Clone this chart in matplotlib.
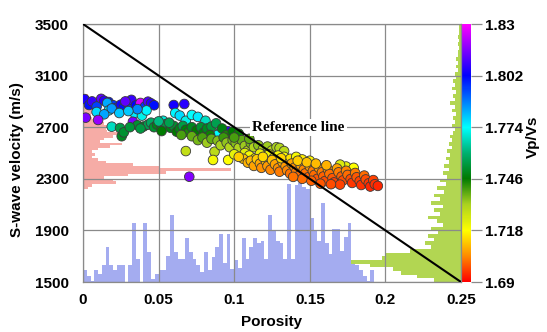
import numpy as np
import matplotlib
matplotlib.use('Agg')
import matplotlib.pyplot as plt
from matplotlib.colors import LinearSegmentedColormap, Normalize

plt.rcParams['font.family'] = ['Liberation Sans', 'DejaVu Sans']
plt.rcParams['font.weight'] = 'bold'

# ---- histograms ----
# porosity histogram (bottom, blue), bins of 0.0025 starting at 0
por_bin_w = 0.0025
por_counts = [9, 5, 1, 9, 6, 13, 27, 13, 9, 13, 13, 0, 13, 46, 18, 0, 46, 23, 2, 6,
              9, 9, 20, 52, 23, 18, 18, 34, 23, 18, 13, 8, 23, 9, 19, 27, 37, 15, 37, 10,
              17, 11, 34, 18, 27, 34, 30, 32, 18, 52, 40, 32, 30, 18, 76, 18, 75, 77, 74, 72,
              50, 40, 32, 61, 30, 22, 41, 41, 24, 35, 46, 14, 13, 9, 5, 1, 9, 0]

# S-wave velocity histogram (left, pink), bins of 20 m/s starting at 2220
vs_bin_start = 2220
vs_bin_w = 20
vs_counts = [3, 6, 22, 20, 14, 30, 55, 98, 50, 33, 15, 10, 6, 8, 6, 10, 18, 26, 11,
             14, 20, 26, 16, 15, 16, 14, 10, 6, 5, 8, 6, 7, 5, 9, 6, 4, 3]

# Vp/Vs histogram (right, green), bins of 0.002 starting at 1.69
vpvs_bin_start = 1.69
vpvs_bin_w = 0.002
vpvs_counts = [18, 29, 40, 45, 60, 86, 52, 50, 34, 20, 24, 18, 22, 15, 20, 12, 16, 22, 14, 18,
               12, 20, 14, 18, 11, 16, 10, 14, 9, 12, 8, 11, 8, 10, 7, 9, 6, 8, 6, 7,
               5, 4, 6, 4, 5, 3, 6, 4, 7, 4, 5, 3, 6, 4, 5, 3, 4, 2, 3, 2,
               3, 2, 2, 1, 2, 1, 2, 1, 1, 1]

# ---- scatter points (porosity, Vs, Vp/Vs) ----
blue_por = [0.001, 0.004, 0.006, 0.012, 0.014, 0.017, 0.020, 0.022, 0.025, 0.027, 0.030,
            0.032, 0.035, 0.038, 0.041, 0.043, 0.045, 0.047, 0.060, 0.067, 0.009, 0.028]
blue_vs = [2918, 2872, 2900, 2920, 2905, 2895, 2870, 2850, 2875, 2852, 2880,
           2912, 2870, 2888, 2860, 2898, 2885, 2870, 2872, 2880, 2860, 2900]
blue_vpvs = [1.805, 1.800, 1.808, 1.812, 1.806, 1.800, 1.796, 1.798, 1.804, 1.800, 1.797,
             1.808, 1.802, 1.826, 1.796, 1.810, 1.806, 1.800, 1.804, 1.806, 1.795, 1.812]

cyan_por = [0.009, 0.016, 0.017, 0.019, 0.024, 0.034, 0.039, 0.042, 0.036, 0.053, 0.061,
            0.064, 0.068, 0.072, 0.076, 0.081, 0.0905, 0.089, 0.019, 0.014, 0.030]
cyan_vs = [2818, 2888, 2830, 2845, 2810, 2810, 2790, 2830, 2840, 2750, 2810,
           2790, 2750, 2795, 2780, 2750, 2655, 2640, 2704, 2800, 2825]
cyan_vpvs = [1.778, 1.783, 1.776, 1.785, 1.780, 1.776, 1.772, 1.775, 1.787, 1.770, 1.775,
             1.778, 1.772, 1.774, 1.776, 1.768, 1.777, 1.774, 1.768, 1.784, 1.780]

purple_por = [0.0018, 0.010, 0.033, 0.096, 0.0703]
purple_vs = [2774, 2756, 2742, 2668, 2316]
purple_vpvs = [1.815, 1.818, 1.815, 1.806, 1.816]

dgreen_por = [0.0245, 0.0256, 0.027, 0.036, 0.040, 0.043, 0.045, 0.047, 0.049, 0.052, 0.055,
              0.058, 0.060, 0.062, 0.064, 0.066, 0.068, 0.070, 0.072, 0.075, 0.078, 0.080,
              0.082, 0.085, 0.088, 0.084, 0.092, 0.095, 0.099, 0.103, 0.052, 0.057, 0.038,
              0.031, 0.050]
dgreen_vs = [2694, 2630, 2660, 2715, 2705, 2720, 2735, 2700, 2720, 2700, 2725,
             2695, 2710, 2665, 2690, 2710, 2680, 2660, 2700, 2675, 2700, 2660,
             2690, 2705, 2730, 2640, 2690, 2640, 2665, 2650, 2670, 2735, 2690,
             2700, 2745]
dgreen_vpvs = [1.755, 1.750, 1.752, 1.752, 1.750, 1.756, 1.758, 1.752, 1.749, 1.748, 1.754,
               1.748, 1.752, 1.746, 1.749, 1.755, 1.747, 1.744, 1.750, 1.746, 1.752, 1.747,
               1.750, 1.753, 1.756, 1.745, 1.748, 1.744, 1.746, 1.745, 1.746, 1.756, 1.754,
               1.753, 1.762]

ygreen_por = [0.065, 0.068, 0.072, 0.076, 0.079, 0.082, 0.085, 0.087, 0.089, 0.091, 0.093,
              0.095, 0.097, 0.099, 0.101, 0.103, 0.105, 0.107, 0.109, 0.111, 0.113, 0.116,
              0.119, 0.122, 0.125, 0.128, 0.130, 0.133, 0.100, 0.110]
ygreen_vs = [2640, 2515, 2630, 2600, 2620, 2580, 2610, 2510, 2595, 2560, 2620,
             2580, 2545, 2600, 2577, 2540, 2600, 2555, 2520, 2575, 2545, 2560,
             2530, 2550, 2520, 2545, 2539, 2515, 2620, 2610]
ygreen_vpvs = [1.740, 1.728, 1.738, 1.736, 1.740, 1.733, 1.738, 1.729, 1.735, 1.732, 1.741,
               1.734, 1.730, 1.736, 1.735, 1.731, 1.738, 1.733, 1.729, 1.736, 1.731, 1.734,
               1.730, 1.733, 1.729, 1.732, 1.731, 1.729, 1.740, 1.738]

yellow_por = [0.086, 0.096, 0.100, 0.104, 0.107, 0.110, 0.114, 0.117, 0.120, 0.123, 0.126,
              0.129, 0.133, 0.137, 0.141, 0.145, 0.150, 0.174, 0.179, 0.170]
yellow_vs = [2446, 2446, 2490, 2470, 2500, 2480, 2460, 2495, 2470, 2490, 2460,
             2480, 2470, 2455, 2470, 2450, 2440, 2395, 2385, 2410]
yellow_vpvs = [1.720, 1.718, 1.722, 1.719, 1.723, 1.720, 1.717, 1.722, 1.718, 1.721, 1.716,
               1.719, 1.718, 1.715, 1.720, 1.716, 1.717, 1.722, 1.718, 1.724]

orange_por = [0.106, 0.109, 0.111, 0.113, 0.115, 0.117, 0.118, 0.121, 0.122, 0.124, 0.125,
              0.127, 0.129, 0.130, 0.132, 0.134, 0.135, 0.137, 0.138, 0.140, 0.141, 0.143,
              0.144, 0.146, 0.147, 0.149, 0.150, 0.152, 0.153, 0.155, 0.156, 0.158, 0.159,
              0.160, 0.162, 0.163, 0.165, 0.166, 0.168, 0.169, 0.171, 0.172, 0.174, 0.175,
              0.177, 0.178, 0.180, 0.181, 0.183, 0.184, 0.186, 0.187, 0.189, 0.190, 0.192,
              0.193, 0.195, 0.142, 0.148, 0.154, 0.161, 0.131, 0.119, 0.157, 0.151, 0.145,
              0.139, 0.170, 0.164, 0.103]
orange_vs = [2455, 2425, 2440, 2400, 2452, 2418, 2385, 2435, 2398, 2370, 2445,
             2412, 2382, 2355, 2428, 2398, 2365, 2340, 2418, 2388, 2355, 2325,
             2405, 2372, 2342, 2312, 2395, 2360, 2330, 2300, 2385, 2350, 2318,
             2282, 2372, 2338, 2305, 2272, 2380, 2350, 2318, 2288, 2362, 2330,
             2298, 2268, 2345, 2312, 2282, 2252, 2325, 2295, 2265, 2240, 2290,
             2258, 2245, 2440, 2428, 2418, 2405, 2460, 2470, 2262, 2285, 2300,
             2315, 2255, 2258, 2470]
orange_vpvs = [1.711, 1.709, 1.710, 1.707, 1.712, 1.708, 1.705, 1.710, 1.706, 1.704, 1.711,
               1.707, 1.705, 1.703, 1.709, 1.706, 1.704, 1.702, 1.708, 1.705, 1.703, 1.701,
               1.707, 1.704, 1.702, 1.700, 1.706, 1.703, 1.701, 1.699, 1.706, 1.703, 1.700,
               1.698, 1.705, 1.702, 1.699, 1.697, 1.707, 1.703, 1.700, 1.698, 1.704, 1.701,
               1.698, 1.696, 1.703, 1.699, 1.697, 1.695, 1.701, 1.698, 1.696, 1.694, 1.697,
               1.695, 1.694, 1.712, 1.711, 1.710, 1.709, 1.713, 1.714, 1.699, 1.700, 1.701,
               1.702, 1.697, 1.698, 1.712]

por = np.array(blue_por + cyan_por + purple_por + dgreen_por + ygreen_por + yellow_por + orange_por)
vs = np.array(blue_vs + cyan_vs + purple_vs + dgreen_vs + ygreen_vs + yellow_vs + orange_vs)
vpvs = np.array(blue_vpvs + cyan_vpvs + purple_vpvs + dgreen_vpvs + ygreen_vpvs + yellow_vpvs + orange_vpvs)

# colour scale red -> yellow -> green -> cyan -> blue -> magenta
cmap = LinearSegmentedColormap.from_list('vpvs', [
    (0.0, '#ff0000'), (0.1, '#ff8a00'), (0.2, '#ffff00'), (0.3, '#a8d020'),
    (0.4, '#007a00'), (0.5, '#00b070'), (0.6, '#00ffff'), (0.7, '#0080ff'),
    (0.8, '#0000ff'), (0.9, '#8000ff'), (1.0, '#ff00ff')])
norm = Normalize(vmin=1.69, vmax=1.83)

fig = plt.figure(figsize=(5.47, 3.32), dpi=100)
ax = fig.add_axes([83/547, 50/332, 378/547, 258/332])
ax2 = ax.twinx()
ax.set_zorder(ax2.get_zorder() + 1)
ax.patch.set_visible(False)

# porosity histogram
por_left = np.arange(len(por_counts)) * por_bin_w
ax.bar(por_left, np.array(por_counts) * 10, width=por_bin_w, bottom=1500,
       align='edge', color='#a4acf0', zorder=1)

# velocity histogram
vs_bottom = vs_bin_start + np.arange(len(vs_counts)) * vs_bin_w
ax.barh(vs_bottom, np.array(vs_counts) * 0.001, height=vs_bin_w, left=0,
        align='edge', color='#f6aca6', zorder=1)

# Vp/Vs histogram on twin axis
vpvs_bottom = vpvs_bin_start + np.arange(len(vpvs_counts)) * vpvs_bin_w
w = np.array(vpvs_counts) * 0.001
ax2.barh(vpvs_bottom, w, height=vpvs_bin_w, left=0.25 - w, align='edge', color='#b2d652')
ax2.set_ylim(1.69, 1.83)
ax2.axis('off')

sc = ax.scatter(por, vs, c=vpvs, cmap=cmap, norm=norm, s=48,
                edgecolors='#3a3a3a', linewidths=0.6, zorder=3)

# reference line
ax.plot([0, 0.25], [3500, 1500], color='black', lw=1.5, zorder=4)
ax.text(0.1425, 2700, 'Reference line', family='Liberation Serif', fontweight='bold',
        fontsize=11, ha='center', va='center', zorder=5,
        bbox=dict(facecolor='white', edgecolor='none', pad=1.5))

ax.set_xlim(0, 0.25)
ax.set_ylim(1500, 3500)
ax.set_xticks([0, 0.05, 0.1, 0.15, 0.2, 0.25])
ax.set_xticklabels(['0', '0.05', '0.1', '0.15', '0.2', '0.25'])
ax.set_yticks([1500, 1900, 2300, 2700, 3100, 3500])
ax.tick_params(length=0, labelsize=11, pad=10)
ax.tick_params(axis='x', pad=8)
ax.set_axisbelow('line')
ax.grid(True, color='#8a8a8a', lw=0.9)
for s in ax.spines.values():
    s.set_color('#8a8a8a')
    s.set_linewidth(0.9)

# colour bar
cax = fig.add_axes([461/547, 50/332, 10/547, 258/332])
cb = fig.colorbar(sc, cax=cax, ticks=[1.69, 1.718, 1.746, 1.774, 1.802, 1.83])
cb.ax.set_yticklabels(['1.69', '1.718', '1.746', '1.774', '1.802', '1.83'])
cb.outline.set_visible(False)
cb.ax.tick_params(length=8, width=0.9, color='#8a8a8a', labelsize=11, pad=2)

fig.text(17/547, 1 - 160/332, 'S-wave velocity (m/s)', rotation=90,
         ha='center', va='center', fontsize=11, fontweight='bold')
fig.text(272/547, 1 - 322/332, 'Porosity', ha='center', va='center',
         fontsize=11, fontweight='bold')
fig.text(533/547, 1 - 137/332, 'Vp/Vs', rotation=90, ha='center', va='center',
         fontsize=11, fontweight='bold')

plt.savefig('out.png', dpi=100)
